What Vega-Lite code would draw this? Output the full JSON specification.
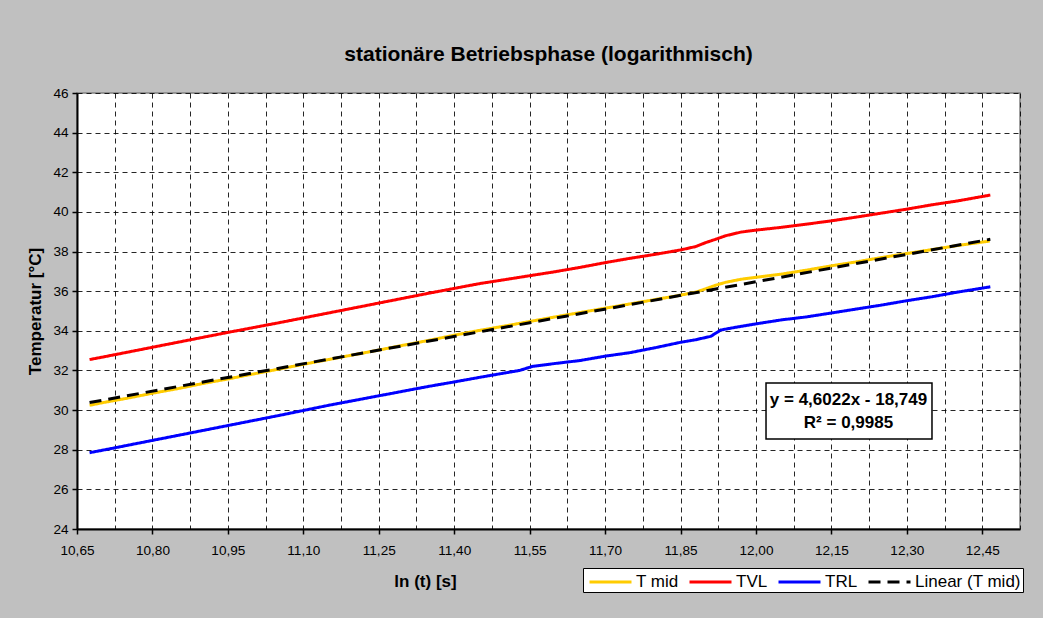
{
  "$schema": "https://vega.github.io/schema/vega-lite/v6.json",
  "width": 943,
  "height": 436,
  "autosize": {"type": "none"},
  "padding": {"left": 77, "top": 93, "right": 23, "bottom": 89},
  "background": "#c0c0c0",
  "config": {
    "font": "Liberation Sans",
    "view": {"fill": "white", "stroke": "#808080", "strokeWidth": 1.5},
    "axis": {
      "domainColor": "black", "domainWidth": 2, "tickColor": "black", "tickWidth": 1.5, "tickSize": 5,
      "labelColor": "black", "labelFont": "Liberation Sans", "labelFontSize": 13.6,
      "titleColor": "black", "titleFont": "Liberation Sans", "titleFontSize": 17, "titleFontWeight": "bold",
      "gridColor": "black", "gridDash": [5, 4], "gridWidth": 1, "gridOpacity": 0.85
    },
    "legend": {
      "title": null, "orient": "none", "legendX": 506, "legendY": 475, "direction": "horizontal",
      "fillColor": "white", "strokeColor": "black", "padding": 2,
      "labelFont": "Liberation Sans", "labelFontSize": 17, "labelColor": "black",
      "symbolType": "M-0.714,0H3.286", "symbolSize": 441, "symbolStrokeWidth": 3,
      "labelOffset": 27, "columnPadding": 4
    }
  },
  "title": {
    "text": "stationäre Betriebsphase (logarithmisch)",
    "font": "Liberation Sans", "fontSize": 21, "fontWeight": "bold", "color": "black",
    "anchor": "middle", "baseline": "alphabetic", "offset": 4
  },
  "datasets": {
    "measured": [
      {"x": 10.675, "y": 30.24, "s": "T mid"}, {"x": 10.70, "y": 30.37, "s": "T mid"}, {"x": 10.75, "y": 30.60, "s": "T mid"}, {"x": 10.80, "y": 30.85, "s": "T mid"}, {"x": 10.85, "y": 31.08, "s": "T mid"}, {"x": 10.90, "y": 31.34, "s": "T mid"}, {"x": 10.95, "y": 31.57, "s": "T mid"}, {"x": 11.00, "y": 31.82, "s": "T mid"}, {"x": 11.05, "y": 32.06, "s": "T mid"}, {"x": 11.10, "y": 32.31, "s": "T mid"}, {"x": 11.15, "y": 32.55, "s": "T mid"}, {"x": 11.20, "y": 32.79, "s": "T mid"}, {"x": 11.25, "y": 33.03, "s": "T mid"}, {"x": 11.30, "y": 33.28, "s": "T mid"}, {"x": 11.35, "y": 33.52, "s": "T mid"}, {"x": 11.40, "y": 33.78, "s": "T mid"}, {"x": 11.45, "y": 34.02, "s": "T mid"}, {"x": 11.50, "y": 34.24, "s": "T mid"}, {"x": 11.55, "y": 34.47, "s": "T mid"}, {"x": 11.60, "y": 34.70, "s": "T mid"}, {"x": 11.65, "y": 34.92, "s": "T mid"}, {"x": 11.70, "y": 35.14, "s": "T mid"}, {"x": 11.75, "y": 35.36, "s": "T mid"}, {"x": 11.80, "y": 35.58, "s": "T mid"}, {"x": 11.85, "y": 35.80, "s": "T mid"}, {"x": 11.88, "y": 35.95, "s": "T mid"}, {"x": 11.90, "y": 36.12, "s": "T mid"}, {"x": 11.92, "y": 36.30, "s": "T mid"}, {"x": 11.94, "y": 36.45, "s": "T mid"}, {"x": 11.97, "y": 36.60, "s": "T mid"}, {"x": 12.00, "y": 36.70, "s": "T mid"}, {"x": 12.05, "y": 36.86, "s": "T mid"}, {"x": 12.10, "y": 37.06, "s": "T mid"}, {"x": 12.15, "y": 37.28, "s": "T mid"}, {"x": 12.20, "y": 37.48, "s": "T mid"}, {"x": 12.25, "y": 37.70, "s": "T mid"}, {"x": 12.30, "y": 37.90, "s": "T mid"}, {"x": 12.35, "y": 38.10, "s": "T mid"}, {"x": 12.40, "y": 38.30, "s": "T mid"}, {"x": 12.465, "y": 38.53, "s": "T mid"},
      {"x": 10.675, "y": 32.55, "s": "TVL"}, {"x": 10.70, "y": 32.67, "s": "TVL"}, {"x": 10.75, "y": 32.92, "s": "TVL"}, {"x": 10.80, "y": 33.17, "s": "TVL"}, {"x": 10.85, "y": 33.42, "s": "TVL"}, {"x": 10.90, "y": 33.67, "s": "TVL"}, {"x": 10.95, "y": 33.92, "s": "TVL"}, {"x": 11.00, "y": 34.16, "s": "TVL"}, {"x": 11.05, "y": 34.40, "s": "TVL"}, {"x": 11.10, "y": 34.65, "s": "TVL"}, {"x": 11.15, "y": 34.90, "s": "TVL"}, {"x": 11.20, "y": 35.15, "s": "TVL"}, {"x": 11.25, "y": 35.40, "s": "TVL"}, {"x": 11.30, "y": 35.65, "s": "TVL"}, {"x": 11.35, "y": 35.90, "s": "TVL"}, {"x": 11.40, "y": 36.14, "s": "TVL"}, {"x": 11.45, "y": 36.38, "s": "TVL"}, {"x": 11.50, "y": 36.58, "s": "TVL"}, {"x": 11.55, "y": 36.78, "s": "TVL"}, {"x": 11.60, "y": 36.98, "s": "TVL"}, {"x": 11.65, "y": 37.20, "s": "TVL"}, {"x": 11.70, "y": 37.44, "s": "TVL"}, {"x": 11.75, "y": 37.66, "s": "TVL"}, {"x": 11.80, "y": 37.86, "s": "TVL"}, {"x": 11.85, "y": 38.08, "s": "TVL"}, {"x": 11.88, "y": 38.25, "s": "TVL"}, {"x": 11.90, "y": 38.45, "s": "TVL"}, {"x": 11.92, "y": 38.62, "s": "TVL"}, {"x": 11.94, "y": 38.80, "s": "TVL"}, {"x": 11.97, "y": 38.98, "s": "TVL"}, {"x": 12.00, "y": 39.08, "s": "TVL"}, {"x": 12.05, "y": 39.22, "s": "TVL"}, {"x": 12.10, "y": 39.38, "s": "TVL"}, {"x": 12.15, "y": 39.55, "s": "TVL"}, {"x": 12.20, "y": 39.74, "s": "TVL"}, {"x": 12.25, "y": 39.94, "s": "TVL"}, {"x": 12.30, "y": 40.14, "s": "TVL"}, {"x": 12.35, "y": 40.36, "s": "TVL"}, {"x": 12.40, "y": 40.55, "s": "TVL"}, {"x": 12.466, "y": 40.85, "s": "TVL"},
      {"x": 10.675, "y": 27.85, "s": "TRL"}, {"x": 10.70, "y": 27.97, "s": "TRL"}, {"x": 10.75, "y": 28.22, "s": "TRL"}, {"x": 10.80, "y": 28.47, "s": "TRL"}, {"x": 10.85, "y": 28.72, "s": "TRL"}, {"x": 10.90, "y": 28.97, "s": "TRL"}, {"x": 10.95, "y": 29.22, "s": "TRL"}, {"x": 11.00, "y": 29.47, "s": "TRL"}, {"x": 11.05, "y": 29.72, "s": "TRL"}, {"x": 11.10, "y": 29.98, "s": "TRL"}, {"x": 11.15, "y": 30.24, "s": "TRL"}, {"x": 11.20, "y": 30.48, "s": "TRL"}, {"x": 11.25, "y": 30.72, "s": "TRL"}, {"x": 11.30, "y": 30.96, "s": "TRL"}, {"x": 11.35, "y": 31.20, "s": "TRL"}, {"x": 11.40, "y": 31.42, "s": "TRL"}, {"x": 11.45, "y": 31.65, "s": "TRL"}, {"x": 11.50, "y": 31.87, "s": "TRL"}, {"x": 11.53, "y": 32.00, "s": "TRL"}, {"x": 11.555, "y": 32.20, "s": "TRL"}, {"x": 11.60, "y": 32.35, "s": "TRL"}, {"x": 11.65, "y": 32.50, "s": "TRL"}, {"x": 11.70, "y": 32.72, "s": "TRL"}, {"x": 11.75, "y": 32.90, "s": "TRL"}, {"x": 11.80, "y": 33.15, "s": "TRL"}, {"x": 11.85, "y": 33.42, "s": "TRL"}, {"x": 11.88, "y": 33.55, "s": "TRL"}, {"x": 11.91, "y": 33.72, "s": "TRL"}, {"x": 11.93, "y": 34.04, "s": "TRL"}, {"x": 11.96, "y": 34.18, "s": "TRL"}, {"x": 12.00, "y": 34.35, "s": "TRL"}, {"x": 12.05, "y": 34.55, "s": "TRL"}, {"x": 12.10, "y": 34.70, "s": "TRL"}, {"x": 12.15, "y": 34.90, "s": "TRL"}, {"x": 12.20, "y": 35.10, "s": "TRL"}, {"x": 12.25, "y": 35.30, "s": "TRL"}, {"x": 12.30, "y": 35.52, "s": "TRL"}, {"x": 12.35, "y": 35.72, "s": "TRL"}, {"x": 12.40, "y": 35.95, "s": "TRL"}, {"x": 12.466, "y": 36.22, "s": "TRL"}
    ],
    "trend": [
      {"x": 10.675, "y": 30.38, "s": "Linear (T mid)"},
      {"x": 12.466, "y": 38.62, "s": "Linear (T mid)"}
    ],
    "box": [
      {"x": 12.02, "x2": 12.35, "y": 31.37, "y2": 28.54}
    ],
    "eq": [
      {"x": 12.184, "y": 30.5, "label": "y = 4,6022x - 18,749"},
      {"x": 12.184, "y": 29.35, "label": "R² = 0,9985"}
    ]
  },
  "encoding": {
    "x": {
      "field": "x", "type": "quantitative",
      "scale": {"domain": [10.65, 12.525], "nice": false, "zero": false},
      "axis": {
        "title": "ln (t) [s]",
        "values": [10.65, 10.725, 10.8, 10.875, 10.95, 11.025, 11.1, 11.175, 11.25, 11.325, 11.4, 11.475, 11.55, 11.625, 11.7, 11.775, 11.85, 11.925, 12.0, 12.075, 12.15, 12.225, 12.3, 12.375, 12.45, 12.525],
        "labelExpr": "round((datum.value - 10.65) / 0.075) % 2 == 0 ? replace(format(datum.value, '.2f'), '.', ',') : ''",
        "tickOpacity": {"condition": {"test": "round((datum.value - 10.65) / 0.075) % 2 == 0", "value": 1}, "value": 0},
        "labelOverlap": false, "labelFlush": false, "labelBound": false,
        "labelPadding": 9,
        "titleX": 348, "titleY": 52, "titleBaseline": "middle", "titleAlign": "center"
      }
    },
    "y": {
      "field": "y", "type": "quantitative",
      "scale": {"domain": [24, 46], "nice": false, "zero": false},
      "axis": {
        "title": "Temperatur [°C]",
        "values": [24, 26, 28, 30, 32, 34, 36, 38, 40, 42, 44, 46],
        "labelPadding": 4,
        "titleX": -42, "titleY": 218, "titleBaseline": "middle", "titleAlign": "center", "titleAngle": -90
      }
    }
  },
  "layer": [
    {
      "data": {"name": "measured"},
      "mark": {"type": "line", "strokeWidth": 3},
      "encoding": {
        "color": {
          "field": "s", "type": "nominal",
          "scale": {"domain": ["T mid", "TVL", "TRL", "Linear (T mid)"], "range": ["#ffcc00", "#ff0000", "#0000ff", "#000000"]}
        },
        "strokeDash": {
          "field": "s", "type": "nominal",
          "scale": {"domain": ["T mid", "TVL", "TRL", "Linear (T mid)"], "range": [[1, 0], [1, 0], [1, 0], [12, 7]]}
        }
      }
    },
    {
      "data": {"name": "trend"},
      "mark": {"type": "line", "strokeWidth": 3},
      "encoding": {
        "color": {"field": "s", "type": "nominal"},
        "strokeDash": {"field": "s", "type": "nominal"}
      }
    },
    {
      "data": {"name": "box"},
      "mark": {"type": "rect", "fill": "white", "stroke": "black", "strokeWidth": 1.5},
      "encoding": {
        "x2": {"field": "x2"},
        "y2": {"field": "y2"}
      }
    },
    {
      "data": {"name": "eq"},
      "mark": {"type": "text", "font": "Liberation Sans", "fontSize": 17, "fontWeight": "bold", "color": "black", "align": "center", "baseline": "middle"},
      "encoding": {
        "text": {"field": "label", "type": "nominal"}
      }
    }
  ]
}
